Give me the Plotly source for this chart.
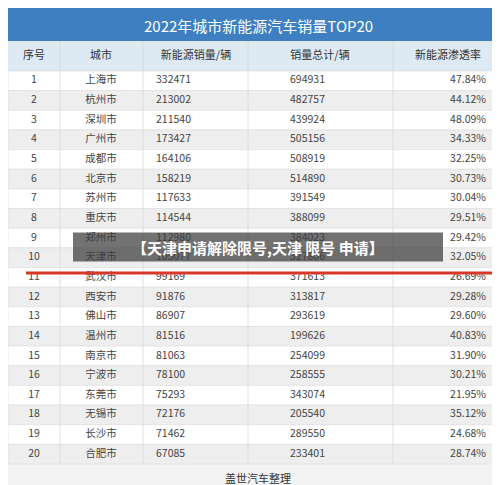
import plotly.graph_objects as go

ranks = list(range(1, 21))
cities = ['上海市', '杭州市', '深圳市', '广州市', '成都市', '北京市', '苏州市', '重庆市', '郑州市', '天津市',
          '武汉市', '西安市', '佛山市', '温州市', '南京市', '宁波市', '东莞市', '无锡市', '长沙市', '合肥市']
nev_sales = [332471, 213002, 211540, 173427, 164106, 158219, 117633, 114544, 112980, 105077,
             99169, 91876, 86907, 81516, 81063, 78100, 75293, 72176, 71462, 67085]
total_sales = [694931, 482757, 439924, 505156, 508919, 514890, 391549, 388099, 384023, 327806,
               371613, 313817, 293619, 199626, 254099, 258555, 343074, 205540, 289550, 233401]
penetration = ['47.84%', '44.12%', '48.09%', '34.33%', '32.25%', '30.73%', '30.04%', '29.51%', '29.42%', '32.05%',
               '26.69%', '29.28%', '29.60%', '40.83%', '31.90%', '30.21%', '21.95%', '35.12%', '24.68%', '28.74%']
headers = ['序号', '城市', '新能源销量/辆', '销量总计/辆', '新能源渗透率']

FONT = 'Noto Sans CJK SC'
TXT = '#444'
col_x = [26, 93, 148, 282, 478]
col_pos = ['middle center', 'middle center', 'middle right', 'middle right', 'middle left']
col_vals = [ranks, cities, nev_sales, total_sales, penetration]
head_y = -0.26

fig = go.Figure()
for x, pos, vals in zip(col_x, col_pos, col_vals):
    fig.add_trace(go.Scatter(
        x=[x] * len(ranks), y=ranks, text=[str(v) for v in vals], mode='text',
        textposition=pos, textfont=dict(family=FONT, size=10.5, color=TXT),
        hoverinfo='skip', showlegend=False))
head_x = [26, 93, 188, 312, 440]
fig.add_trace(go.Scatter(
    x=head_x, y=[head_y] * 5, text=headers, mode='text',
    textfont=dict(family=FONT, size=11, color='#333'), hoverinfo='skip', showlegend=False))

shapes = [
    dict(type='rect', x0=0, x1=500, y0=-2.71, y1=-1.03, fillcolor='#3d7fc0', line_width=0, layer='below'),
    dict(type='rect', x0=0, x1=500, y0=-1.03, y1=0.5, fillcolor='#dde9f3', line_width=0, layer='below'),
]
for r in ranks:
    shapes.append(dict(type='rect', x0=0, x1=500, y0=r - 0.5, y1=r + 0.5,
                       fillcolor='#ffffff' if r % 2 else '#eeeeee',
                       line=dict(color='#dddddd', width=0.6), layer='below'))
for vx in [52, 135, 240, 385]:
    shapes.append(dict(type='line', x0=vx, x1=vx, y0=-1.03, y1=20.5,
                       line=dict(color='#d8d8d8', width=0.8), layer='below'))
shapes += [
    dict(type='rect', x0=65, x1=435, y0=8.72, y1=10.2, fillcolor='rgba(60,60,60,0.72)', line_width=0),
    dict(type='line', x0=18, x1=485, y0=10.78, y1=10.78, line=dict(color='#d9362a', width=3)),
]

fig.update_layout(
    width=500, height=485, margin=dict(l=0, r=0, t=0, b=0),
    paper_bgcolor='#f3f3f3', plot_bgcolor='#f3f3f3',
    xaxis=dict(range=[0, 500], visible=False, fixedrange=True),
    yaxis=dict(range=[21.976, -2.706], visible=False, fixedrange=True),
    shapes=shapes,
    annotations=[
        dict(text='2022年城市新能源汽车销量TOP20', x=250, y=-1.84, showarrow=False,
             font=dict(family=FONT, size=15, color='white')),
        dict(text='<b>【天津申请解除限号,天津 限号 申请】</b>', x=250, y=9.46, showarrow=False,
             font=dict(family=FONT, size=15, color='white')),
        dict(text='盖世汽车整理', x=250, y=21.21, showarrow=False,
             font=dict(family=FONT, size=11, color='#333')),
    ],
)

fig.write_html('out.html')
